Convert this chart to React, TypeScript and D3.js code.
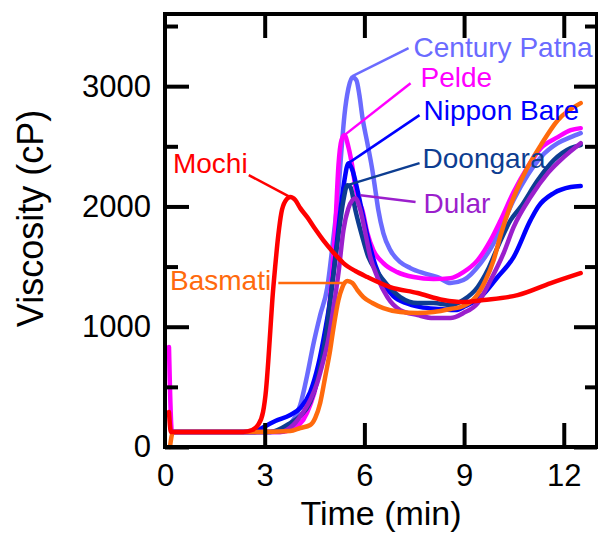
import * as d3 from 'd3'
import { useMemo, useEffect, useRef } from 'react'

const WIDTH = 598
const HEIGHT = 533
const margin = { top: 14, right: 1, bottom: 86, left: 165 }
const FONT = 'Liberation Sans, Arial, sans-serif'

// axis ticks
const xTicks = [0, 3, 6, 9, 12]
const yMajorTicks = [0, 1000, 2000, 3000]
const yMinorTicks = [500, 1500, 2500, 3500]

// RVA pasting curves, time (min) / viscosity (cP)
const centuryTime = [0.21, 3.17, 3.62, 3.92, 4.07, 4.28, 4.46, 4.67, 4.88, 5.06, 5.22, 5.31, 5.40, 5.52, 5.64, 5.76, 5.85, 5.94, 6.09, 6.24, 6.33, 6.42, 6.57, 6.78, 7.08, 7.39, 7.78, 8.20, 8.59, 8.98, 9.50, 9.89, 10.19, 10.49, 10.91, 11.31, 11.82, 12.21, 12.51]
const centuryVisc = [125, 125, 166, 249, 349, 598, 848, 1097, 1321, 1720, 2136, 2468, 2759, 2983, 3075, 3050, 2925, 2742, 2526, 2302, 2136, 1969, 1778, 1637, 1537, 1487, 1446, 1413, 1363, 1388, 1529, 1695, 1870, 2053, 2260, 2410, 2526, 2576, 2609]

const peldeTime = [0.12, 0.21, 3.47, 3.86, 4.16, 4.37, 4.55, 4.67, 4.88, 5.03, 5.13, 5.22, 5.31, 5.40, 5.52, 5.64, 5.73, 5.82, 5.94, 6.09, 6.27, 6.57, 6.99, 7.48, 8.08, 8.59, 8.98, 9.41, 9.80, 10.10, 10.49, 10.91, 11.31, 11.82, 12.21, 12.51]
const peldeVisc = [831, 125, 125, 158, 224, 349, 515, 723, 1014, 1446, 1861, 2343, 2551, 2593, 2493, 2327, 2161, 2053, 1969, 1778, 1637, 1529, 1454, 1413, 1396, 1404, 1454, 1554, 1720, 1886, 2119, 2327, 2485, 2576, 2634, 2651]

const nipponTime = [0.21, 2.71, 2.92, 3.32, 3.77, 4.07, 4.37, 4.61, 4.82, 4.97, 5.13, 5.28, 5.40, 5.52, 5.64, 5.79, 5.94, 6.12, 6.33, 6.57, 6.87, 7.24, 7.69, 8.29, 8.74, 9.04, 9.50, 10.01, 10.49, 11.00, 11.22, 11.70, 12.21, 12.51]
const nipponVisc = [125, 125, 158, 216, 266, 324, 457, 681, 972, 1222, 1596, 1969, 2219, 2360, 2302, 2136, 1945, 1720, 1512, 1363, 1255, 1197, 1163, 1147, 1138, 1172, 1247, 1413, 1579, 1886, 1994, 2111, 2161, 2169]

const doongaraTime = [0.21, 3.17, 3.77, 4.07, 4.37, 4.61, 4.82, 5.03, 5.22, 5.37, 5.49, 5.58, 5.73, 5.94, 6.12, 6.39, 6.69, 7.08, 7.60, 8.08, 8.59, 8.98, 9.41, 9.71, 10.01, 10.40, 10.70, 11.22, 11.70, 12.21, 12.51]
const doongaraVisc = [125, 125, 199, 258, 374, 582, 889, 1346, 1762, 2053, 2177, 2161, 1969, 1745, 1579, 1454, 1346, 1247, 1197, 1197, 1180, 1222, 1330, 1471, 1662, 1886, 1994, 2219, 2385, 2485, 2510]

const dularTime = [0.21, 3.47, 3.86, 4.16, 4.37, 4.58, 4.73, 4.91, 5.06, 5.22, 5.37, 5.52, 5.64, 5.73, 5.88, 6.03, 6.18, 6.39, 6.69, 7.08, 7.60, 8.08, 8.59, 8.98, 9.41, 9.80, 10.19, 10.49, 11.00, 11.52, 12.00, 12.51]
const dularVisc = [125, 125, 183, 291, 391, 532, 681, 889, 1138, 1446, 1803, 1986, 2053, 2069, 1969, 1778, 1579, 1413, 1247, 1138, 1097, 1072, 1072, 1114, 1197, 1388, 1612, 1828, 2078, 2277, 2410, 2526]

const basmatiTime = [0.15, 0.24, 2.56, 3.77, 4.07, 4.37, 4.52, 4.67, 4.82, 4.97, 5.06, 5.22, 5.34, 5.49, 5.64, 5.79, 5.97, 6.24, 6.57, 7.08, 7.60, 8.08, 8.59, 8.98, 9.35, 9.65, 9.89, 10.10, 10.40, 10.79, 11.31, 11.82, 12.51]
const basmatiVisc = [0, 125, 125, 133, 158, 183, 241, 366, 582, 806, 972, 1222, 1330, 1380, 1363, 1305, 1247, 1197, 1155, 1122, 1114, 1122, 1147, 1172, 1247, 1388, 1554, 1762, 2011, 2260, 2510, 2717, 2859]

const mochiTime = [0.12, 0.18, 2.35, 2.62, 2.80, 2.95, 3.04, 3.11, 3.17, 3.23, 3.32, 3.41, 3.50, 3.62, 3.77, 3.92, 4.07, 4.28, 4.52, 4.76, 5.06, 5.37, 5.73, 6.09, 6.78, 7.60, 8.38, 8.98, 9.59, 10.61, 11.61, 12.51]
const mochiVisc = [290, 125, 125, 141, 183, 291, 474, 723, 972, 1222, 1512, 1762, 1945, 2044, 2078, 2053, 1986, 1911, 1812, 1720, 1620, 1529, 1463, 1413, 1330, 1280, 1222, 1205, 1222, 1263, 1363, 1446]

// draw order: first is underneath
const series = [
  { name: 'Century Patna', color: '#6b6bff', time: centuryTime, visc: centuryVisc },
  { name: 'Pelde', color: '#ff00ff', time: peldeTime, visc: peldeVisc },
  { name: 'Nippon Bare', color: '#0000ff', time: nipponTime, visc: nipponVisc },
  { name: 'Doongara', color: '#0d3d91', time: doongaraTime, visc: doongaraVisc },
  { name: 'Dular', color: '#9b1fcc', time: dularTime, visc: dularVisc },
  { name: 'Basmati', color: '#ff6a0d', time: basmatiTime, visc: basmatiVisc },
  { name: 'Mochi', color: '#ff0000', time: mochiTime, visc: mochiVisc },
]

// label text position and leader line, in data units
const labelNames = ['Century Patna', 'Pelde', 'Nippon Bare', 'Doongara', 'Dular', 'Mochi', 'Basmati']
const labelX = [7.48, 7.69, 7.78, 7.75, 7.78, 0.24, 0.15]
const labelY = [3241, 2992, 2717, 2318, 1945, 2277, 1305]
const leaderFrom = [[7.33, 3316], [7.39, 3025], [7.66, 2759], [7.66, 2360], [7.54, 2036], [2.52, 2260], [3.41, 1363]]
const leaderTo = [[5.64, 3083], [5.40, 2593], [5.52, 2360], [5.49, 2177], [5.88, 2094], [3.77, 2078], [5.43, 1363]]

const App = () => {
  const axesRef = useRef(null)

  const innerW = WIDTH - margin.left - margin.right
  const innerH = HEIGHT - margin.top - margin.bottom

  const xScale = useMemo(() => d3.scaleLinear().domain([0, 13]).range([0, innerW]), [innerW])
  const yScale = useMemo(() => d3.scaleLinear().domain([0, 3600]).range([innerH, 0]), [innerH])

  const line = useMemo(() =>
    d3.line()
      .x((d) => xScale(d[0]))
      .y((d) => yScale(d[1]))
      .curve(d3.curveMonotoneX)
  , [xScale, yScale])

  useEffect(() => {
    const g = d3.select(axesRef.current)
    g.selectAll('*').remove()

    const style = (sel, size) => {
      sel.select('.domain').remove()
      sel.selectAll('line').attr('stroke', '#000').attr('stroke-width', 4)
      sel.selectAll('text').attr('font-size', size).attr('font-family', FONT).attr('fill', '#000')
    }

    // bottom & top
    g.append('g').attr('transform', `translate(0, ${innerH})`)
      .call(d3.axisBottom(xScale).tickValues(xTicks.slice(1)).tickSizeInner(-24).tickSizeOuter(0).tickFormat(() => ''))
      .call((s) => style(s, 31))
    g.append('g').attr('transform', `translate(0, ${innerH})`)
      .call(d3.axisBottom(xScale).tickValues(xTicks).tickSize(0).tickPadding(17).tickFormat(d3.format('d')))
      .call((s) => style(s, 31))
    g.append('g')
      .call(d3.axisTop(xScale).tickValues(xTicks.slice(1)).tickSizeInner(-24).tickSizeOuter(0).tickFormat(() => ''))
      .call((s) => style(s, 31))

    // left & right
    g.append('g')
      .call(d3.axisLeft(yScale).tickValues(yMajorTicks).tickSizeInner(-24).tickSizeOuter(0).tickPadding(14).tickFormat(d3.format('d')))
      .call((s) => style(s, 31))
    g.append('g')
      .call(d3.axisLeft(yScale).tickValues(yMinorTicks).tickSizeInner(-13).tickSizeOuter(0).tickFormat(() => ''))
      .call((s) => style(s, 31))
    g.append('g').attr('transform', `translate(${innerW}, 0)`)
      .call(d3.axisRight(yScale).tickValues(yMajorTicks).tickSizeInner(-23).tickSizeOuter(0).tickFormat(() => ''))
      .call((s) => style(s, 31))
    g.append('g').attr('transform', `translate(${innerW}, 0)`)
      .call(d3.axisRight(yScale).tickValues(yMinorTicks).tickSizeInner(-12).tickSizeOuter(0).tickFormat(() => ''))
      .call((s) => style(s, 31))
  }, [xScale, yScale, innerW, innerH])

  const curves = series.map((s) => (
    <path
      key={s.name}
      d={line(s.time.map((t, i) => [t, s.visc[i]]))}
      fill="none"
      stroke={s.color}
      strokeWidth={4.5}
      strokeLinejoin="round"
      strokeLinecap="round"
    />
  ))

  const labels = labelNames.map((name, i) => {
    const color = series.find((s) => s.name === name).color
    return (
      <g key={name}>
        <line
          x1={xScale(leaderFrom[i][0])}
          y1={yScale(leaderFrom[i][1])}
          x2={xScale(leaderTo[i][0])}
          y2={yScale(leaderTo[i][1])}
          stroke={color}
          strokeWidth={2.5}
        />
        <text x={xScale(labelX[i])} y={yScale(labelY[i])} fill={color} fontSize={28} fontFamily={FONT}>
          {name}
        </text>
      </g>
    )
  })

  return (
    <div style={{ position: 'absolute', left: 0, top: 0 }}>
      <svg width={WIDTH} height={HEIGHT} style={{ display: 'block' }}>
        <rect width={WIDTH} height={HEIGHT} fill="#fff" />
        <g transform={`translate(${margin.left}, ${margin.top})`}>
          {curves}
          {labels}
          <g ref={axesRef} />
          <rect x={0} y={0} width={innerW} height={innerH} fill="none" stroke="#000" strokeWidth={4} />
        </g>
        <text
          x={margin.left + xScale(6.5)}
          y={525}
          textAnchor="middle"
          fontSize={34}
          fontFamily={FONT}
        >
          Time (min)
        </text>
        <text
          transform={`translate(43, ${margin.top + yScale(1900)}) rotate(-90)`}
          textAnchor="middle"
          fontSize={36}
          fontFamily={FONT}
        >
          Viscosity (cP)
        </text>
      </svg>
    </div>
  )
}

export default App
